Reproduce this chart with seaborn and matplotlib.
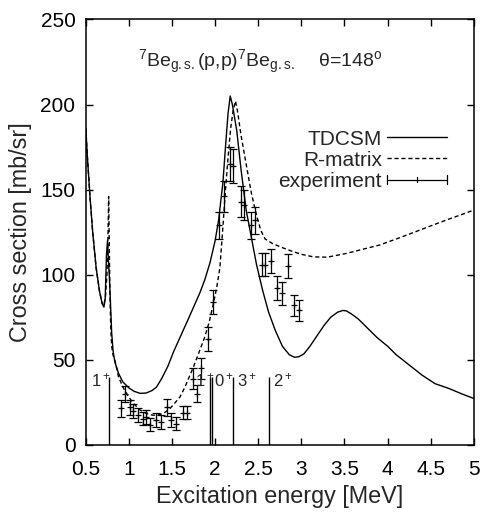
import matplotlib
matplotlib.use("Agg")
import matplotlib.pyplot as plt
import seaborn as sns
import pandas as pd
from matplotlib.lines import Line2D
from matplotlib.container import ErrorbarContainer
from matplotlib.legend_handler import HandlerBase

# TDCSM calculation
tdcsm_e = [0.50, 0.52, 0.55, 0.58, 0.62, 0.66, 0.69, 0.71, 0.725, 0.74, 0.752,
           0.765, 0.775, 0.785, 0.80, 0.817, 0.836, 0.88, 0.93, 1.00, 1.06,
           1.13, 1.20, 1.27, 1.32, 1.38, 1.45, 1.52, 1.60, 1.68, 1.75, 1.82,
           1.88, 1.94, 2.00, 2.04, 2.09, 2.12, 2.15, 2.175, 2.20, 2.25, 2.30,
           2.36, 2.42, 2.48, 2.55, 2.62, 2.70, 2.78, 2.86, 2.92, 2.97, 3.03,
           3.10, 3.18, 3.26, 3.34, 3.42, 3.48, 3.52, 3.58, 3.66, 3.76, 3.88,
           4.00, 4.10, 4.25, 4.40, 4.55, 4.72, 4.86, 5.00]
tdcsm_xs = [186, 168, 145, 125, 104, 90, 83, 81, 86, 112, 120,
            106, 97, 85, 66, 55, 49, 42, 37, 33.5, 31.5,
            30.3, 30.5, 32, 34, 39, 46, 55, 64, 73, 81, 89,
            97, 107, 120, 132, 154, 175, 195, 205, 200, 185, 162,
            138, 122, 106, 91, 78, 67, 58, 53, 51.5, 51.8, 53.5,
            58, 64, 70, 75, 78, 79, 78.8, 77, 74, 69, 63,
            58, 53, 47, 41, 36, 33, 30, 27.3]

# R-matrix calculation
rmat_e = [0.50, 0.52, 0.55, 0.58, 0.62, 0.66, 0.69, 0.71, 0.73, 0.745, 0.758,
          0.765, 0.772, 0.78, 0.79, 0.80, 0.815, 0.836, 0.88, 0.93, 1.00,
          1.06, 1.13, 1.20, 1.27, 1.33, 1.40, 1.47, 1.53, 1.59, 1.65, 1.70,
          1.75, 1.81, 1.88, 1.93, 1.98, 2.02, 2.055, 2.09, 2.12, 2.15, 2.18,
          2.21, 2.236, 2.26, 2.30, 2.36, 2.42, 2.48, 2.53, 2.58, 2.66, 2.75,
          2.88, 3.00, 3.14, 3.30, 3.52, 3.70, 3.91, 4.10, 4.30, 4.50, 4.70,
          4.85, 5.00]
rmat_xs = [186, 168, 145, 125, 104, 90, 83, 82, 88, 100, 125,
           146, 120, 88, 68, 58, 53, 50, 40, 34, 28,
           24, 20.5, 18.5, 17.5, 17.5, 18.5, 21, 24.5, 28, 34, 40,
           46, 54, 63.5, 72, 83, 93, 104, 128, 150, 169, 186,
           197, 202, 196, 182, 165, 148, 135, 126, 121, 118.5, 116.5,
           114, 112, 110.5, 110.3, 112.5, 114.8, 117.5, 121, 124.8, 128.7, 132.5,
           135.2, 138]

# measured cross sections with uncertainties
exp_e = [0.91, 0.95, 1.01, 1.05, 1.11, 1.16, 1.20, 1.25, 1.31, 1.37, 1.44,
         1.49, 1.55, 1.63, 1.67, 1.74, 1.79, 1.84, 1.92, 1.98, 2.04, 2.10,
         2.17, 2.21, 2.30, 2.33, 2.42, 2.46, 2.54, 2.58, 2.65, 2.72, 2.78,
         2.85, 2.91, 2.97]
exp_xs = [21.5, 30, 22, 20, 17.5, 15.5, 16.5, 12, 14.5, 13.5, 22,
          14.5, 12.5, 19, 19, 39, 30, 45, 62, 84, 129, 146,
          165, 164, 143, 141, 129, 132, 106, 106, 108, 92, 89,
          105, 82, 79]
exp_err = [5, 4.5, 4.5, 4, 4, 4, 4, 4, 4, 4, 5,
           4, 4, 4, 4, 6, 5, 6, 7, 7, 8, 9,
           10, 10, 9, 9, 8, 8, 7, 7, 7, 7, 7,
           7, 6, 6]

# levels of 8B
level_e = [0.767, 1.942, 1.960, 2.209, 2.627]
level_top = 40
level_label_e = [0.565, 1.772, 1.985, 2.255, 2.67]
level_labels = ["1$^+$", "1$^+$", "0$^+$", "3$^+$", "2$^+$"]

x_ticks = [0.5, 1, 1.5, 2, 2.5, 3, 3.5, 4, 4.5, 5]
x_tick_labels = ["0.5", "1", "1.5", "2", "2.5", "3", "3.5", "4", "4.5", "5"]
y_ticks = [0, 50, 100, 150, 200, 250]


class HandlerYErrorSample(HandlerBase):
    """Horizontal bar with end caps and a centre tick, as in gnuplot keys."""

    def create_artists(self, legend, orig_handle, xdescent, ydescent,
                       width, height, fontsize, trans):
        y = height / 2 - ydescent
        x0 = -xdescent
        x1 = x0 + width
        xm = 0.5 * (x0 + x1)
        c = 0.32 * height
        kw = dict(color="black", lw=0.9, transform=trans)
        return [Line2D([x0, x1], [y, y], **kw),
                Line2D([x0, x0], [y - c, y + c], **kw),
                Line2D([x1, x1], [y - c, y + c], **kw),
                Line2D([xm, xm], [y - 0.6 * c, y + 0.6 * c], **kw)]


sns.set_theme(style="ticks")
plt.rcParams["font.family"] = ["Liberation Sans", "DejaVu Sans"]
plt.rcParams["mathtext.fontset"] = "custom"
plt.rcParams["mathtext.rm"] = "Liberation Sans"
plt.rcParams["mathtext.it"] = "Liberation Sans:italic"
plt.rcParams["mathtext.bf"] = "Liberation Sans:bold"

fig = plt.figure(figsize=(4.82, 5.12), dpi=100)
ax = fig.add_axes([0.178, 0.131, 0.805, 0.831])

df_t = pd.DataFrame({"E": tdcsm_e, "xs": tdcsm_xs})
df_r = pd.DataFrame({"E": rmat_e, "xs": rmat_xs})
sns.lineplot(data=df_t, x="E", y="xs", ax=ax, color="black", lw=1.0,
             sort=False, estimator=None)
sns.lineplot(data=df_r, x="E", y="xs", ax=ax, color="black", lw=1.0,
             linestyle=(0, (3, 2)), sort=False, estimator=None)

eb = ax.errorbar(exp_e, exp_xs, yerr=exp_err, fmt="+", color="black",
                 ms=5, mew=0.9, elinewidth=0.9, capsize=3, capthick=0.9)

ax.vlines(level_e, 0, level_top, color="black", lw=1.0)
for e, lab in zip(level_label_e, level_labels):
    ax.text(e, 34.5, lab, fontsize=12, ha="left", va="baseline")

ax.text(1.10, 222,
        "$^{7}$Be$_{\\rm g.s.}$(p,p)$^{7}$Be$_{\\rm g.s.}$    \u03b8=148$^{\\rm o}$",
        fontsize=14, ha="left", va="baseline")

ax.set_xlim(0.5, 5)
ax.set_ylim(0, 250)
ax.set_xticks(x_ticks)
ax.set_xticklabels(x_tick_labels)
ax.set_yticks(y_ticks)
ax.tick_params(direction="in", top=True, right=True, length=5, width=1,
               labelsize=15, colors="black")
ax.tick_params(axis="x", pad=10.5)
ax.tick_params(axis="y", pad=7.5)
for s in ax.spines.values():
    s.set_linewidth(1.1)
    s.set_color("black")
ax.set_xlabel("Excitation energy [MeV]", fontsize=16.8, labelpad=5)
ax.set_ylabel("Cross section [mb/sr]", fontsize=16.8, labelpad=6)

h_t = Line2D([], [], color="black", lw=1.0)
h_r = Line2D([], [], color="black", lw=1.0, linestyle=(0, (3, 2)))
ax.legend([h_t, h_r, eb], ["TDCSM", "R-matrix", "experiment"],
          handler_map={ErrorbarContainer: HandlerYErrorSample()},
          loc="upper right", bbox_to_anchor=(0.930, 0.741), frameon=False,
          markerfirst=False, fontsize=15, handlelength=2.85, handletextpad=0.25,
          labelspacing=0.1, borderaxespad=0, borderpad=0)

fig.savefig("out.png", dpi=100)
